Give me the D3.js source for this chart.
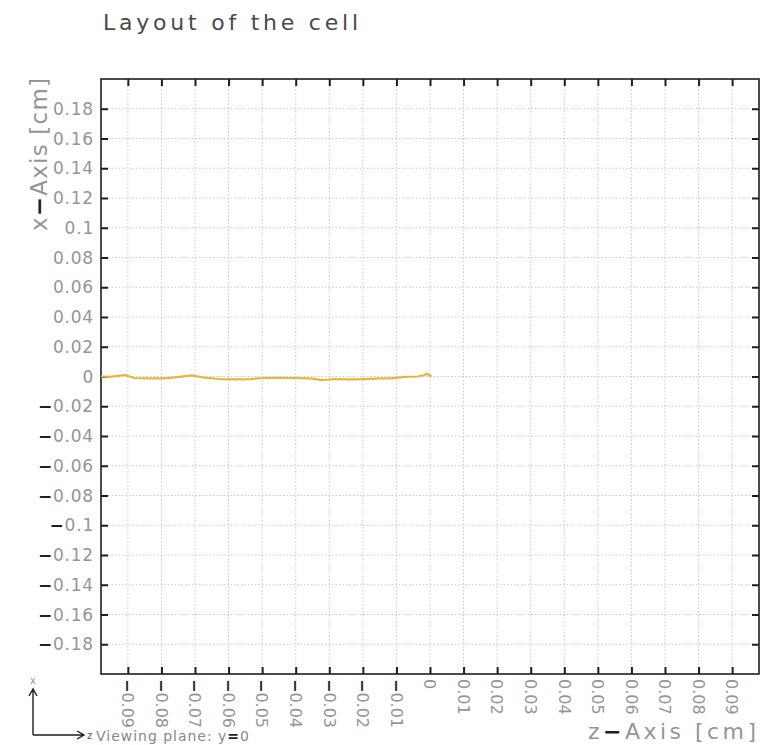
<!DOCTYPE html>
<html>
<head>
<meta charset="utf-8">
<script src="https://cdn.jsdelivr.net/npm/d3@7"></script>
<style>
  body { margin: 0; background: #fff; }
  svg { display: block; }
</style>
</head>
<body>
<svg id="chart" width="763" height="745"></svg>
<script>
// Tick positions and labels (cm)
const zTicks = [-0.09, -0.08, -0.07, -0.06, -0.05, -0.04, -0.03, -0.02, -0.01, 0,
                0.01, 0.02, 0.03, 0.04, 0.05, 0.06, 0.07, 0.08, 0.09];
const zTickLabels = ["−0.09", "−0.08", "−0.07", "−0.06", "−0.05", "−0.04", "−0.03", "−0.02", "−0.01", "0",
                     "0.01", "0.02", "0.03", "0.04", "0.05", "0.06", "0.07", "0.08", "0.09"];
const xTicks = [0.18, 0.16, 0.14, 0.12, 0.1, 0.08, 0.06, 0.04, 0.02, 0,
                -0.02, -0.04, -0.06, -0.08, -0.1, -0.12, -0.14, -0.16, -0.18];
const xTickLabels = ["0.18", "0.16", "0.14", "0.12", "0.1", "0.08", "0.06", "0.04", "0.02", "0",
                     "−0.02", "−0.04", "−0.06", "−0.08", "−0.1", "−0.12", "−0.14", "−0.16", "−0.18"];

// Cell boundary profile in the y = 0 plane
const profileZ = [-0.098, -0.0954, -0.0909, -0.088, -0.0834, -0.079, -0.0746, -0.071, -0.0671,
                  -0.0627, -0.0582, -0.0537, -0.0493, -0.0448, -0.0403, -0.0359, -0.032, -0.0284,
                  -0.024, -0.0195, -0.015, -0.0112, -0.0076, -0.0037, -0.0016, -0.001, -0.0001, 0.0004];
const profileX = [0.0, -0.0003, 0.001, -0.001, -0.0013, -0.0012, -0.0003, 0.0007, -0.0007,
                  -0.0017, -0.0019, -0.0017, -0.001, -0.0009, -0.001, -0.0013, -0.0024, -0.0017,
                  -0.0019, -0.0017, -0.0013, -0.0012, -0.0003, 0.0, 0.001, 0.002, 0.0007, 0.0];

const W = 763, H = 745;
const plot = { left: 101, right: 759, top: 79, bottom: 674 };
const FONT = "'DejaVu Sans', sans-serif";
const LABEL = "#959595";
const DARK = "#1e1e1e";

const svg = d3.select("#chart");
svg.append("rect").attr("width", W).attr("height", H).attr("fill", "#fff");

const z = d3.scaleLinear().domain([-0.098, 0.098]).range([plot.left, plot.right]);
const x = d3.scaleLinear().domain([-0.2, 0.2]).range([plot.bottom, plot.top]);

// Dotted grid
const grid = svg.append("g").attr("stroke", "#c8c8c8").attr("stroke-width", 1)
  .attr("stroke-dasharray", "1.5,2");
grid.selectAll("line.gz").data(zTicks).join("line").attr("class", "gz")
  .attr("x1", d => z(d)).attr("x2", d => z(d))
  .attr("y1", plot.top).attr("y2", plot.bottom);
grid.selectAll("line.gx").data(xTicks).join("line").attr("class", "gx")
  .attr("y1", d => x(d)).attr("y2", d => x(d))
  .attr("x1", plot.left).attr("x2", plot.right);

// Inward ticks on all four sides
function styleAxis(g) {
  g.select(".domain").remove();
  g.selectAll(".tick line").attr("stroke", DARK).attr("stroke-width", 2);
  g.selectAll(".tick text").remove();
}
svg.append("g").attr("transform", `translate(${plot.left},0)`)
  .call(d3.axisLeft(x).tickValues(xTicks).tickSize(-7)).call(styleAxis);
svg.append("g").attr("transform", `translate(${plot.right},0)`)
  .call(d3.axisRight(x).tickValues(xTicks).tickSize(-7)).call(styleAxis);
svg.append("g").attr("transform", `translate(0,${plot.bottom})`)
  .call(d3.axisBottom(z).tickValues(zTicks).tickSize(-7)).call(styleAxis);
svg.append("g").attr("transform", `translate(0,${plot.top})`)
  .call(d3.axisTop(z).tickValues(zTicks).tickSize(-7)).call(styleAxis);

// Frame
svg.append("rect")
  .attr("x", plot.left).attr("y", plot.top)
  .attr("width", plot.right - plot.left).attr("height", plot.bottom - plot.top)
  .attr("fill", "none").attr("stroke", DARK).attr("stroke-width", 1.6);

// Text with a dark leading minus sign
function writeLabel(sel, s) {
  sel.text(null);
  const parts = s.split("−");
  parts.forEach((p, i) => {
    if (i > 0) sel.append("tspan").attr("fill", DARK).attr("font-weight", "bold").text("−");
    if (p) sel.append("tspan").text(p);
  });
}

// Left tick labels
svg.append("g").selectAll("text").data(xTicks).join("text")
  .attr("x", plot.left - 7).attr("y", d => x(d)).attr("dy", "0.36em")
  .attr("text-anchor", "end").attr("font-family", FONT).attr("font-size", 17)
  .attr("letter-spacing", 0.8).attr("fill", LABEL)
  .each(function(d, i) { writeLabel(d3.select(this), xTickLabels[i]); });

// Bottom tick labels, rotated to read downward
svg.append("g").selectAll("text").data(zTicks).join("text")
  .attr("transform", d => `translate(${z(d)},${plot.bottom + 5}) rotate(90)`)
  .attr("dy", "0.36em").attr("text-anchor", "start")
  .attr("font-family", FONT).attr("font-size", 16)
  .attr("fill", LABEL)
  .each(function(d, i) { writeLabel(d3.select(this), zTickLabels[i]); });

// Title
svg.append("text").attr("x", 103).attr("y", 30)
  .attr("font-family", FONT).attr("font-size", 22).attr("fill", "#4a4a4a")
  .attr("textLength", 255).attr("lengthAdjust", "spacing")
  .text("Layout of the cell");

// Axis titles
const zTitle = svg.append("text").attr("x", 588).attr("y", 739)
  .attr("font-family", FONT).attr("font-size", 22).attr("fill", LABEL)
  .attr("textLength", 168).attr("lengthAdjust", "spacing");
writeLabel(zTitle, "z−Axis [cm]");
const xTitle = svg.append("text")
  .attr("transform", "translate(47,231) rotate(-90)")
  .attr("font-family", FONT).attr("font-size", 23).attr("fill", LABEL)
  .attr("textLength", 153).attr("lengthAdjust", "spacing");
writeLabel(xTitle, "x−Axis [cm]");

// Profile line
const line = d3.line().x((d, i) => z(profileZ[i])).y(d => x(d)).curve(d3.curveLinear);
svg.append("path").datum(profileX)
  .attr("d", line).attr("fill", "none")
  .attr("stroke", "#e4b83a").attr("stroke-width", 2.2).attr("stroke-linejoin", "round");

// Orientation key
const key = svg.append("g").attr("stroke", DARK).attr("stroke-width", 1.4).attr("fill", "none");
key.append("path").attr("d", "M33,735 L33,690 M29,696 L33,689 L37,696");
key.append("path").attr("d", "M33,735 L83,735 M77,731 L84,735 L77,739");
svg.append("text").attr("x", 33).attr("y", 684).attr("text-anchor", "middle")
  .attr("font-family", FONT).attr("font-size", 10).attr("fill", LABEL).text("x");
svg.append("text").attr("x", 87).attr("y", 739)
  .attr("font-family", FONT).attr("font-size", 10).attr("fill", "#555").text("z");
const vp = svg.append("text").attr("x", 96).attr("y", 741)
  .attr("font-family", FONT).attr("font-size", 14).attr("fill", "#888")
  .attr("textLength", 153).attr("lengthAdjust", "spacing");
vp.append("tspan").text("Viewing plane: y");
vp.append("tspan").attr("fill", DARK).attr("font-weight", "bold").text("=");
vp.append("tspan").text("0");
</script>
</body>
</html>
